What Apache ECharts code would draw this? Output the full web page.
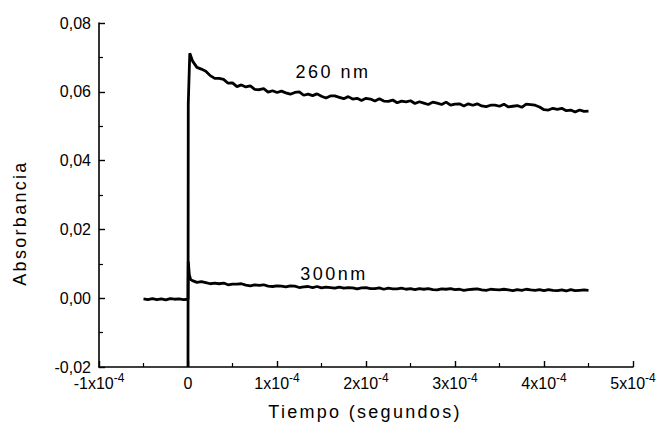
<!DOCTYPE html>
<html>
<head>
<meta charset="utf-8">
<script src="https://cdn.jsdelivr.net/npm/echarts@6/dist/echarts.min.js"></script>
<style>
  html, body { margin: 0; background: #fff; }
  #chart { width: 661px; height: 433px; }
</style>
</head>
<body>
<div id="chart"></div>
<script>
// axis ranges (seconds / absorbance)
const xMin = -1e-4, xMax = 5e-4, xStep = 1e-4;
const yMin = -0.02, yMax = 0.08, yStep = 0.02;

// sampling of the traces
const sampleStep = 5e-6;       // 5 µs between samples
const preStart = -50e-6;       // pre-trigger baseline start (300 nm)

// 260 nm: jump at t = 0, then decay (t = 5 µs ... 450 µs)
const jump260Times = [0, 0.3e-6, 2e-6];
const jump260Values = [-0.02, 0.0565, 0.0712];
const abs260 = [
  0.0690, 0.0671, 0.0666, 0.0660, 0.0647, 0.0639, 0.0639, 0.0636, 0.0625, 0.0626,
  0.0615, 0.0620, 0.0614, 0.0617, 0.0607, 0.0606, 0.0609, 0.0599, 0.0603, 0.0598,
  0.0602, 0.0597, 0.0593, 0.0598, 0.0600, 0.0590, 0.0593, 0.0589, 0.0594, 0.0587,
  0.0582, 0.0588, 0.0588, 0.0584, 0.0580, 0.0586, 0.0579, 0.0581, 0.0575, 0.0581,
  0.0579, 0.0573, 0.0580, 0.0573, 0.0572, 0.0576, 0.0568, 0.0573, 0.0571, 0.0574,
  0.0566, 0.0571, 0.0567, 0.0563, 0.0570, 0.0567, 0.0563, 0.0570, 0.0561, 0.0564,
  0.0565, 0.0559, 0.0565, 0.0561, 0.0565, 0.0559, 0.0557, 0.0561, 0.0561, 0.0558,
  0.0564, 0.0556, 0.0558, 0.0560, 0.0555, 0.0564, 0.0563, 0.0561, 0.0556, 0.0548,
  0.0547, 0.0552, 0.0549, 0.0552, 0.0545, 0.0547, 0.0541, 0.0547, 0.0543, 0.0544
];

// 300 nm: baseline before the pulse (t = -50 µs ... 0)
const abs300Pre = [
  -0.0002, -0.0004, -0.0001, -0.0004, -0.0002, -0.0005, -0.0001, -0.0003, -0.0002, -0.0004, -0.0003
];
const spike300Times = [0.3e-6, 1.5e-6, 3e-6];
const spike300Values = [0.0106, 0.0068, 0.0054];
// 300 nm after the pulse (t = 5 µs ... 450 µs)
const abs300 = [
  0.0051, 0.0046, 0.0048, 0.0045, 0.0042, 0.0044, 0.0042, 0.0044, 0.0039, 0.0041,
  0.0041, 0.0042, 0.0038, 0.0036, 0.0039, 0.0037, 0.0039, 0.0035, 0.0034, 0.0036,
  0.0035, 0.0033, 0.0036, 0.0035, 0.0031, 0.0033, 0.0034, 0.0031, 0.0034, 0.0030,
  0.0032, 0.0031, 0.0029, 0.0032, 0.0029, 0.0031, 0.0030, 0.0027, 0.0030, 0.0031,
  0.0028, 0.0028, 0.0030, 0.0026, 0.0029, 0.0027, 0.0027, 0.0029, 0.0026, 0.0028,
  0.0025, 0.0028, 0.0026, 0.0028, 0.0025, 0.0024, 0.0027, 0.0026, 0.0028, 0.0025,
  0.0026, 0.0023, 0.0025, 0.0026, 0.0027, 0.0024, 0.0023, 0.0026, 0.0025, 0.0024,
  0.0026, 0.0024, 0.0022, 0.0025, 0.0023, 0.0026, 0.0024, 0.0023, 0.0025, 0.0022,
  0.0025, 0.0023, 0.0022, 0.0024, 0.0021, 0.0025, 0.0022, 0.0023, 0.0024, 0.0023
];

const labels = {
  xName: 'Tiempo (segundos)',
  yName: 'Absorbancia',
  s260: '260 nm',
  s300: '300nm'
};

const font = 'Liberation Sans, Arial, sans-serif';

const data260 = jump260Times.map((t, i) => [t, jump260Values[i]])
  .concat(abs260.map((v, i) => [(i + 1) * sampleStep, v]));

const data300 = abs300Pre.map((v, i) => [preStart + i * sampleStep, v])
  .concat(spike300Times.map((t, i) => [t, spike300Values[i]]))
  .concat(abs300.map((v, i) => [(i + 1) * sampleStep, v]));

const chart = echarts.init(document.getElementById('chart'), null, { renderer: 'svg' });

const axisCommon = {
  axisLine: { onZero: false, lineStyle: { color: '#000', width: 1.6 } },
  axisTick: { inside: true, length: 6, lineStyle: { color: '#000', width: 1.4 } },
  minorTick: { show: true, splitNumber: 2, length: 4, lineStyle: { color: '#000', width: 1.2 } },
  splitLine: { show: false }
};

chart.setOption({
  animation: false,
  backgroundColor: '#fff',
  grid: { left: 99, right: 28, top: 23, bottom: 66 },
  xAxis: Object.assign({
    type: 'value',
    min: xMin,
    max: xMax,
    interval: xStep,
    axisLabel: {
      margin: 5,
      color: '#000',
      fontFamily: font,
      formatter: (v) => {
        const n = Math.round(v / 1e-4);
        return n === 0 ? '{b|0}' : '{b|' + n + 'x10}{s|-4}';
      },
      rich: {
        b: { fontSize: 16, lineHeight: 22, fontFamily: font, color: '#000' },
        s: { fontSize: 12, lineHeight: 11, verticalAlign: 'top', fontFamily: font, color: '#000' }
      }
    }
  }, axisCommon),
  yAxis: Object.assign({
    type: 'value',
    min: yMin,
    max: yMax,
    interval: yStep,
    axisLabel: {
      margin: 8,
      color: '#000',
      fontSize: 16,
      fontFamily: font,
      formatter: (v) => v.toFixed(2).replace('.', ',')
    }
  }, axisCommon),
  graphic: [
    { type: 'text', x: 365, y: 412, style: { text: labels.xName, font: '18px ' + font, fill: '#000', align: 'center', verticalAlign: 'middle' } },
    { type: 'text', x: 20, y: 223, rotation: Math.PI / 2, style: { text: labels.yName, font: '18px ' + font, fill: '#000', align: 'center', verticalAlign: 'middle' } },
    { type: 'text', x: 333, y: 72, style: { text: labels.s260, font: '18px ' + font, fill: '#000', align: 'center', verticalAlign: 'middle' } },
    { type: 'text', x: 334, y: 274, style: { text: labels.s300, font: '18px ' + font, fill: '#000', align: 'center', verticalAlign: 'middle' } }
  ],
  series: [
    {
      name: labels.s260,
      type: 'line',
      data: data260,
      showSymbol: false,
      lineStyle: { color: '#000', width: 2.8 }
    },
    {
      name: labels.s300,
      type: 'line',
      data: data300,
      showSymbol: false,
      lineStyle: { color: '#000', width: 2.8 }
    }
  ]
});

// the titles in the original are spaced out a bit
const spacing = {};
spacing[labels.xName] = '2.3px';
spacing[labels.yName] = '2.3px';
spacing[labels.s260] = '2.5px';
spacing[labels.s300] = '2.5px';
function spaceText() {
  document.querySelectorAll('#chart text').forEach((el) => {
    const s = spacing[el.textContent];
    if (s) el.style.letterSpacing = s;
  });
}
spaceText();
chart.on('finished', spaceText);
</script>
</body>
</html>
